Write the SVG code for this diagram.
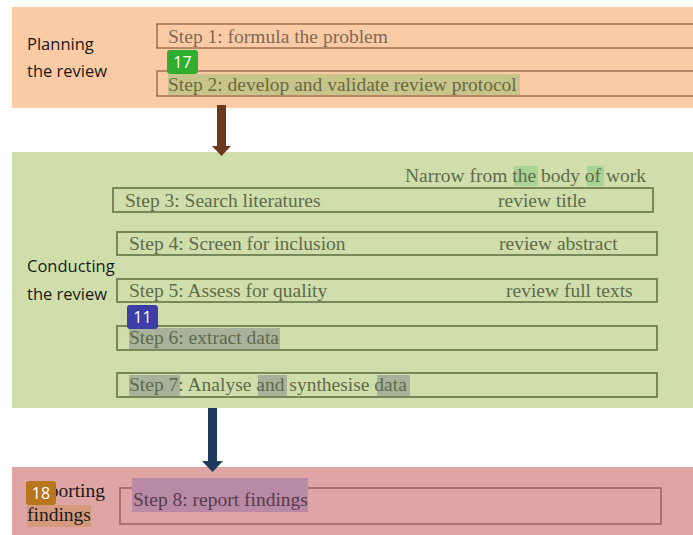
<svg xmlns="http://www.w3.org/2000/svg" width="693" height="535" viewBox="0 0 693 535">
  <style>
    .phase { font-family: "Open Sans", "Liberation Sans", sans-serif; font-size: 16.5px; fill: #1a1a1a; }
    .step { font-family: "Liberation Serif", serif; font-size: 19.5px; }
    .plan-t { fill: #7d6a58; }
    .cond-t { fill: #5f6b4c; }
    .rep-t { fill: #5a3a4a; }
    .box-plan { fill: none; stroke: #a07152; stroke-width: 1.5; }
    .box-cond { fill: none; stroke: #6e8050; stroke-width: 1.8; }
    .box-rep { fill: none; stroke: #9a5c62; stroke-width: 1.5; }
    .badge-t { font-family: "Open Sans", "Liberation Sans", sans-serif; font-size: 16px; fill: #ffffff; }
    .hl-gray { fill: #a8b29a; }
    .hl-green { fill: #a9d494; }
  </style>

  <rect width="693" height="535" fill="#ffffff"/>

  <!-- Planning phase -->
  <g id="planning">
    <rect x="12" y="7" width="681" height="101" fill="#fbcba5"/>
    <text class="phase" x="27" y="50">Planning</text>
    <text class="phase" x="27" y="77">the review</text>
  </g>
  <g id="step1">
    <rect class="box-plan" x="157" y="24" width="540" height="24"/>
    <text class="step plan-t" x="168" y="43">Step 1: formula the problem</text>
  </g>
  <g id="step2">
    <rect class="box-plan" x="157" y="71" width="540" height="25"/>
    <rect x="168" y="74" width="352" height="21" fill="#c8c48a"/>
    <text class="step" x="168" y="91" fill="#6b6a40">Step 2: develop and validate review protocol</text>
  </g>
  <g id="badge17">
    <rect x="167" y="50" width="31" height="24" rx="3" fill="#2fae2f"/>
    <text class="badge-t" x="182.5" y="68" text-anchor="middle">17</text>
  </g>

  <!-- Conducting phase -->
  <g id="conducting">
    <rect x="12" y="152" width="681" height="256" fill="#cfdeab"/>
    <text class="phase" x="27" y="272">Conducting</text>
    <text class="phase" x="27" y="300">the review</text>
    <rect class="hl-green" x="514" y="166" width="24" height="20"/>
    <rect class="hl-green" x="587" y="166" width="17" height="20"/>
    <text class="step cond-t" x="405" y="182">Narrow from the body of work</text>
  </g>
  <g id="step3">
    <rect class="box-cond" x="113" y="188" width="540" height="24"/>
    <text class="step cond-t" x="125" y="207">Step 3: Search literatures</text>
    <text class="step cond-t" x="498" y="207">review title</text>
  </g>
  <g id="step4">
    <rect class="box-cond" x="117" y="232" width="540" height="23"/>
    <text class="step cond-t" x="129" y="250">Step 4: Screen for inclusion</text>
    <text class="step cond-t" x="499" y="250">review abstract</text>
  </g>
  <g id="step5">
    <rect class="box-cond" x="117" y="279" width="540" height="23"/>
    <text class="step cond-t" x="129" y="297">Step 5: Assess for quality</text>
    <text class="step cond-t" x="506" y="297">review full texts</text>
  </g>
  <g id="step6">
    <rect class="box-cond" x="117" y="326" width="540" height="24"/>
    <rect class="hl-gray" x="129" y="328" width="151" height="21"/>
    <text class="step cond-t" x="129" y="344">Step 6: extract data</text>
  </g>
  <g id="step7">
    <rect class="box-cond" x="117" y="373" width="540" height="24"/>
    <rect class="hl-gray" x="129" y="375" width="51" height="21"/>
    <rect class="hl-gray" x="258" y="375" width="29" height="21"/>
    <rect class="hl-gray" x="377" y="375" width="33" height="21"/>
    <text class="step cond-t" x="129" y="391">Step 7: Analyse and synthesise data</text>
  </g>
  <g id="badge11">
    <rect x="127" y="305" width="31" height="24" rx="3" fill="#3d3da6"/>
    <text class="badge-t" x="142.5" y="323" text-anchor="middle">11</text>
  </g>

  <!-- Reporting phase -->
  <g id="reporting">
    <rect x="12" y="467" width="681" height="68" fill="#dfa5a5"/>
    <rect x="27" y="505" width="64" height="22" fill="#d59a7e"/>
    <text class="step" x="27" y="497" fill="#1a1a1a">Reporting</text>
    <text class="step" x="27" y="521" fill="#1a1a1a">findings</text>
  </g>
  <g id="step8">
    <rect class="box-rep" x="120" y="488" width="541" height="36"/>
    <rect x="132" y="478" width="176" height="34" fill="#b88aa6"/>
    <text class="step rep-t" x="133" y="506">Step 8: report findings</text>
  </g>
  <g id="badge18">
    <rect x="26" y="481" width="30" height="24" rx="3" fill="#b8761c"/>
    <text class="badge-t" x="41" y="499" text-anchor="middle">18</text>
  </g>

  <!-- Connectors -->
  <g id="connectors">
    <path d="M217,105 H226 V146 H231 L221.5,156 L212,146 H217 Z" fill="#6b3a1e"/>
    <path d="M208,408 H217 V461 H223 L212.5,472 L202,461 H208 Z" fill="#1e3a5c"/>
  </g>
</svg>
